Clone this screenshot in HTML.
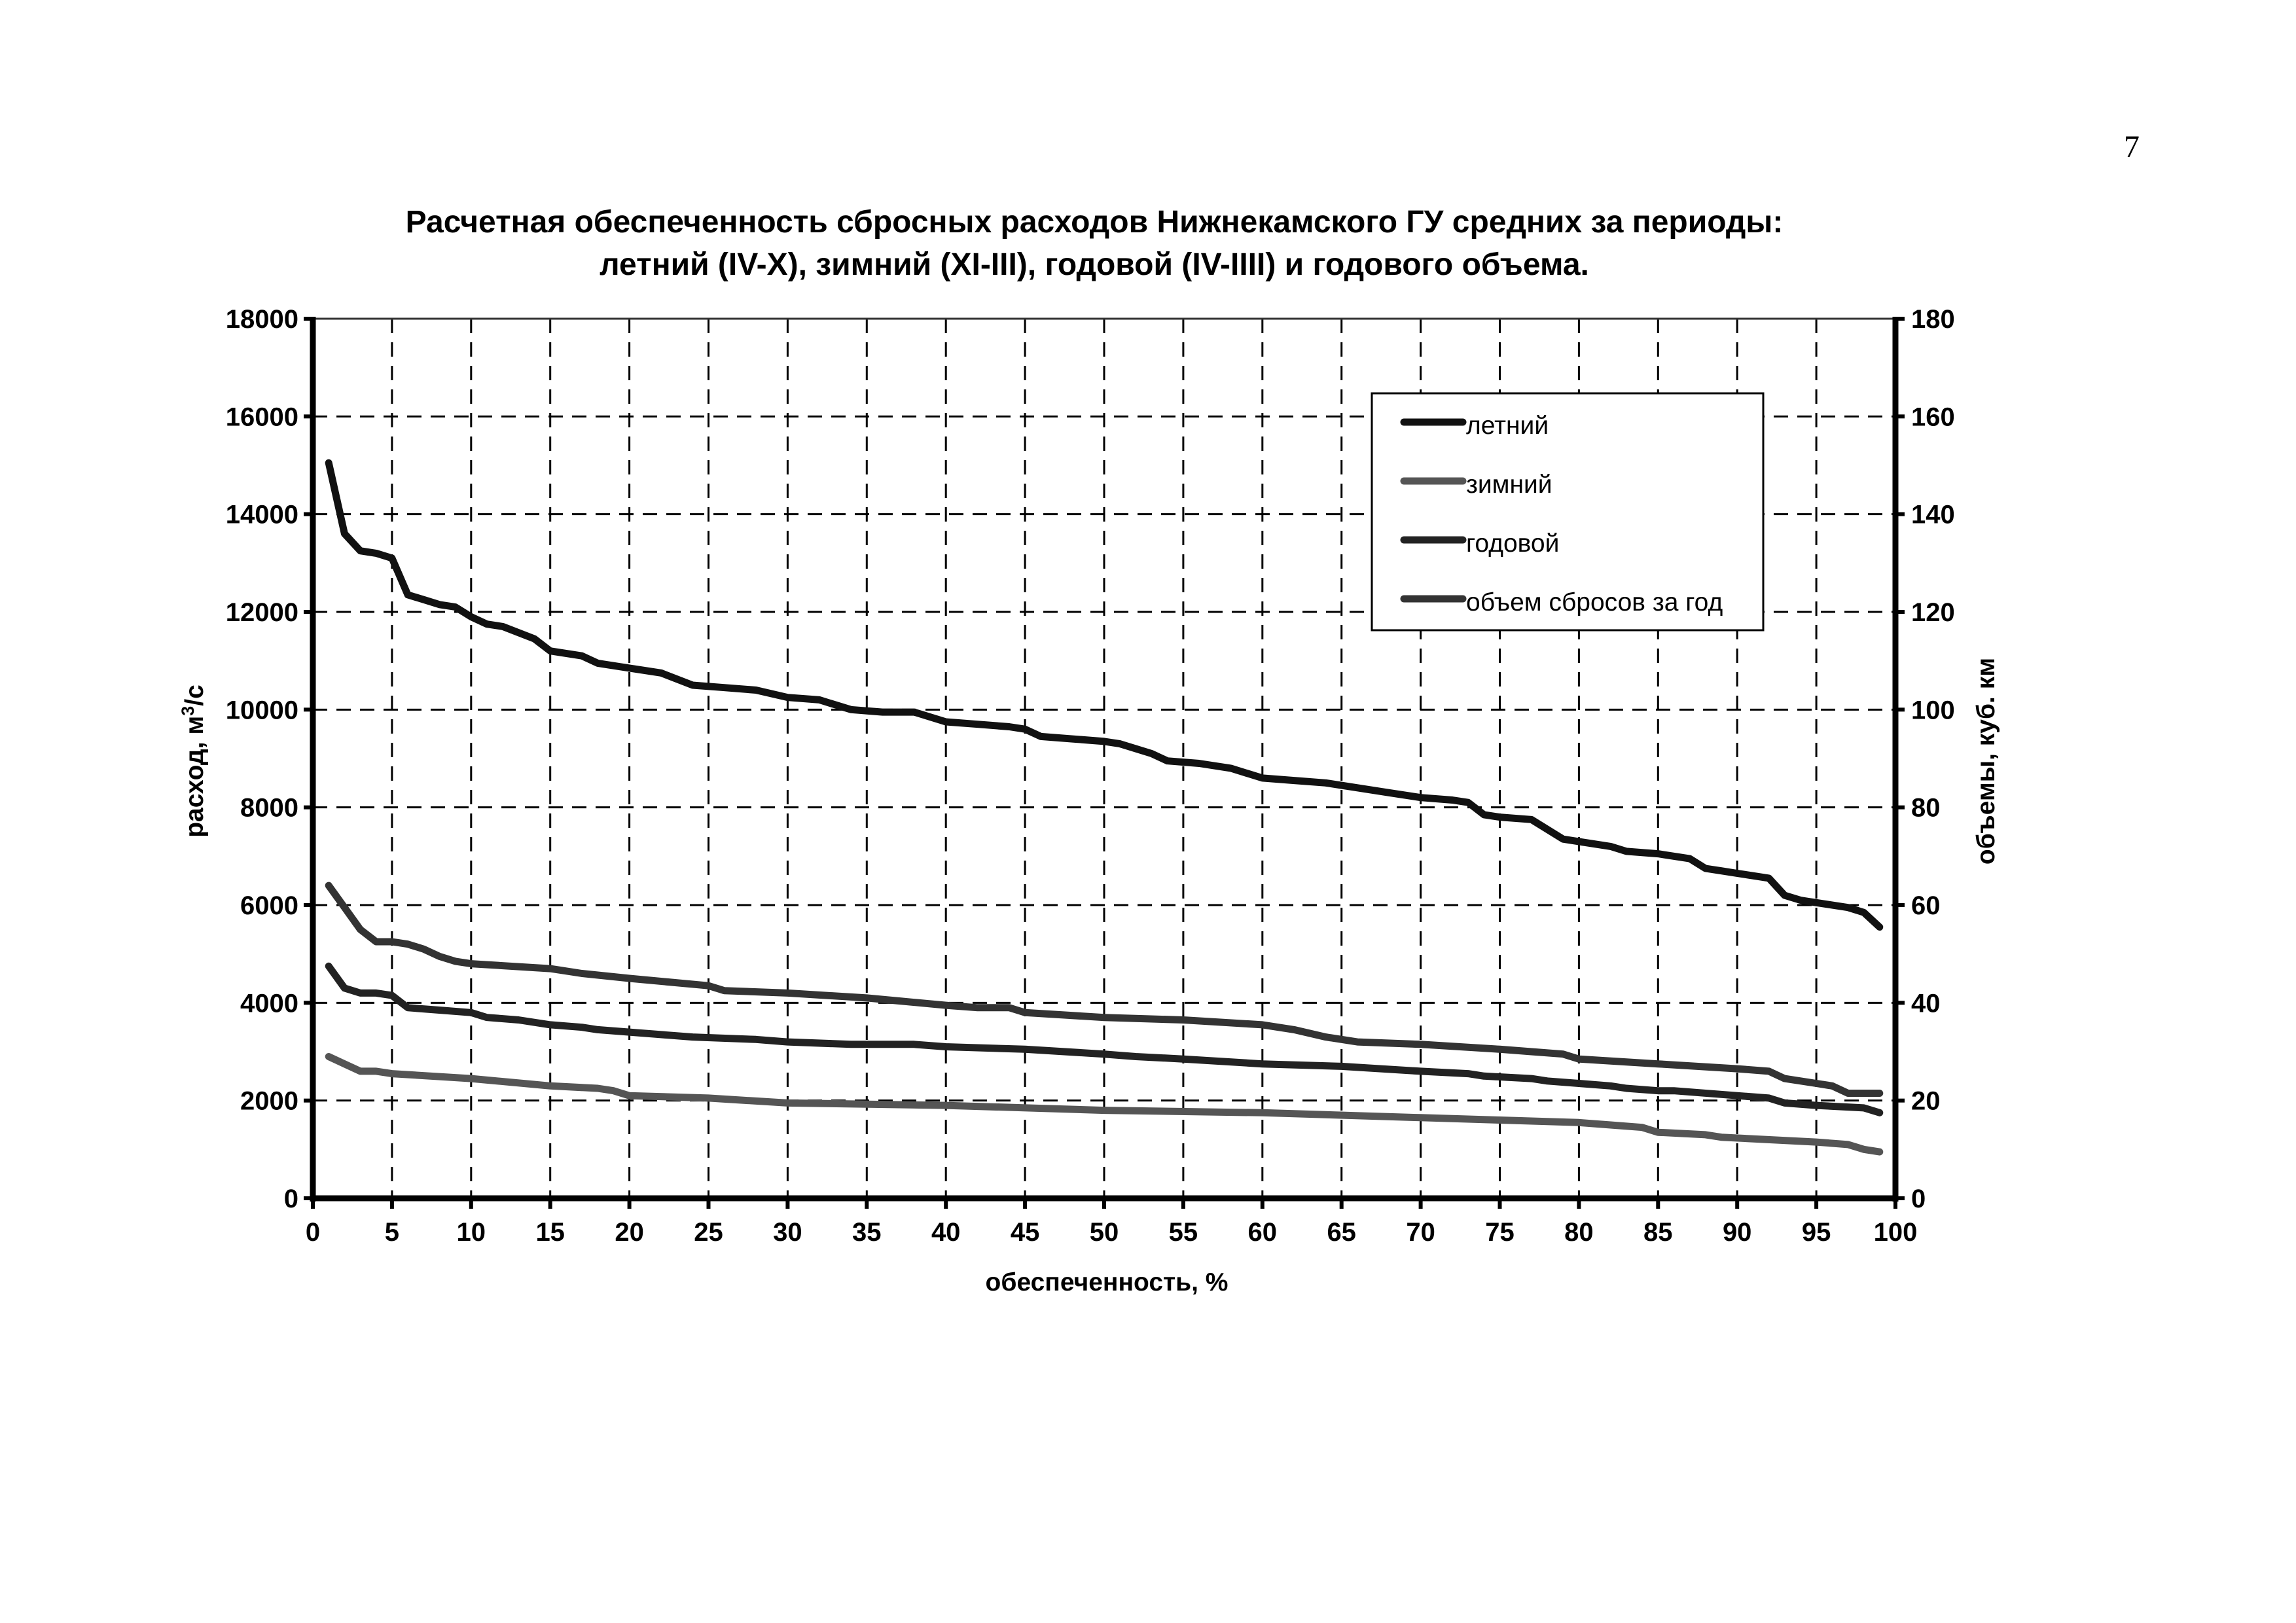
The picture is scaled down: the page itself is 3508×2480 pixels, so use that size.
<!DOCTYPE html>
<html><head><meta charset="utf-8"><style>
html,body{margin:0;padding:0;background:#fff;}
svg{display:block;}
text{font-family:"Liberation Sans",Arial,sans-serif;}
</style></head><body>
<svg id="s" width="3508" height="2480" xmlns="http://www.w3.org/2000/svg">
<text x="3257" y="240" font-family="Liberation Serif" style="font-family:'Liberation Serif',serif" font-size="48" text-anchor="middle">7</text>
<text x="1672" y="355" font-size="48" font-weight="bold" text-anchor="middle">Расчетная обеспеченность сбросных расходов Нижнекамского ГУ средних за периоды:</text>
<text x="1672" y="420" font-size="48" font-weight="bold" text-anchor="middle">летний (IV-X), зимний (XI-III), годовой (IV-IIII) и годового объема.</text>
<g id="g"></g>
<text x="1691" y="1972" font-size="39" font-weight="bold" text-anchor="middle">обеспеченность, %</text>
<text transform="translate(310,1163) rotate(-90)" font-size="39" font-weight="bold" text-anchor="middle">расход, м<tspan font-size="27" dy="-14">3</tspan><tspan dy="14">/с</tspan></text>
<text transform="translate(3047,1163) rotate(-90)" font-size="39" font-weight="bold" text-anchor="middle">объемы, куб. км</text>
<rect x="2096" y="601" width="598" height="362" fill="#fff" stroke="#000" stroke-width="3"/>
<g stroke-linecap="round" stroke-width="11">
<line x1="2145" y1="645" x2="2235" y2="645" stroke="#111"/>
<line x1="2145" y1="735" x2="2235" y2="735" stroke="#555"/>
<line x1="2145" y1="825" x2="2235" y2="825" stroke="#222"/>
<line x1="2145" y1="915" x2="2235" y2="915" stroke="#333"/>
</g>
<g font-size="39">
<text x="2240" y="663">летний</text>
<text x="2240" y="753">зимний</text>
<text x="2240" y="843">годовой</text>
<text x="2240" y="933">объем сбросов за год</text>
</g>
</svg>
<script>
var X0=478,X1=2896,Y0=1831,Y1=487;
function px(x){return X0+(X1-X0)*x/100}
function py(v){return Y0+(Y1-Y0)*v/18000}
var g=document.getElementById('g'),h='';
for(var i=1;i<=19;i++){var x=px(i*5);h+='<line x1="'+x+'" y1="'+Y1+'" x2="'+x+'" y2="'+Y0+'" stroke="#000" stroke-width="3" stroke-dasharray="22 14"/>';}
for(var j=1;j<=9;j++){var y=py(j*2000);h+='<line x1="'+X0+'" y1="'+y+'" x2="'+X1+'" y2="'+y+'" stroke="#000" stroke-width="3" stroke-dasharray="22 14"/>';}
h+='<line x1="'+X0+'" y1="'+Y1+'" x2="'+X1+'" y2="'+Y1+'" stroke="#333" stroke-width="3"/>';
h+='<line x1="'+X0+'" y1="'+(Y1-3)+'" x2="'+X0+'" y2="'+(Y0+5)+'" stroke="#000" stroke-width="9"/>';
h+='<line x1="'+X1+'" y1="'+(Y1-3)+'" x2="'+X1+'" y2="'+(Y0+5)+'" stroke="#000" stroke-width="9"/>';
h+='<line x1="'+(X0-3)+'" y1="'+Y0+'" x2="'+(X1+3)+'" y2="'+Y0+'" stroke="#000" stroke-width="9"/>';
for(var i=0;i<=20;i++){var x=px(i*5);h+='<line x1="'+x+'" y1="'+Y0+'" x2="'+x+'" y2="'+(Y0+16)+'" stroke="#000" stroke-width="6"/>';
h+='<text x="'+x+'" y="'+(Y0+65)+'" font-size="40" font-weight="bold" text-anchor="middle">'+(i*5)+'</text>';}
for(var j=0;j<=9;j++){var y=py(j*2000);
h+='<line x1="'+(X0-14)+'" y1="'+y+'" x2="'+X0+'" y2="'+y+'" stroke="#000" stroke-width="6"/>';
h+='<line x1="'+X1+'" y1="'+y+'" x2="'+(X1+14)+'" y2="'+y+'" stroke="#000" stroke-width="6"/>';
h+='<text x="'+(X0-22)+'" y="'+(y+14)+'" font-size="40" font-weight="bold" text-anchor="end">'+(j*2000)+'</text>';
h+='<text x="'+(X1+24)+'" y="'+(y+14)+'" font-size="40" font-weight="bold">'+(j*20)+'</text>';}
var S=[
["#111",[[1,15050],[2,13600],[3,13250],[4,13200],[5,13100],[6,12350],[7,12250],[8,12150],[9,12100],[10,11900],[11,11750],[12,11700],[14,11450],[15,11200],[17,11100],[18,10950],[20,10850],[22,10750],[24,10500],[26,10450],[28,10400],[30,10250],[32,10200],[34,10000],[36,9950],[38,9950],[40,9750],[42,9700],[44,9650],[45,9600],[46,9450],[48,9400],[50,9350],[51,9300],[53,9100],[54,8950],[56,8900],[58,8800],[60,8600],[62,8550],[64,8500],[66,8400],[68,8300],[70,8200],[72,8150],[73,8100],[74,7850],[75,7800],[77,7750],[79,7350],[81,7250],[82,7200],[83,7100],[85,7050],[87,6950],[88,6750],[89,6700],[90,6650],[91,6600],[92,6550],[93,6200],[94,6100],[95,6050],[97,5950],[98,5850],[99,5550]]],
["#333",[[1,6400],[2,5950],[3,5500],[4,5250],[5,5250],[6,5200],[7,5100],[8,4950],[9,4850],[10,4800],[15,4700],[17,4600],[20,4500],[25,4350],[26,4250],[30,4200],[35,4100],[40,3950],[42,3900],[44,3900],[45,3800],[50,3700],[55,3650],[60,3550],[62,3450],[64,3300],[66,3200],[70,3150],[75,3050],[77,3000],[79,2950],[80,2850],[85,2750],[90,2650],[92,2600],[93,2450],[95,2350],[96,2300],[97,2150],[99,2150]]],
["#222",[[1,4750],[2,4300],[3,4200],[4,4200],[5,4150],[6,3900],[8,3850],[10,3800],[11,3700],[13,3650],[15,3550],[17,3500],[18,3450],[20,3400],[22,3350],[24,3300],[28,3250],[30,3200],[34,3150],[38,3150],[40,3100],[45,3050],[50,2950],[52,2900],[55,2850],[60,2750],[65,2700],[70,2600],[73,2550],[74,2500],[77,2450],[78,2400],[80,2350],[82,2300],[83,2250],[85,2200],[86,2200],[90,2100],[92,2050],[93,1950],[95,1900],[98,1850],[99,1750]]],
["#555",[[1,2900],[2,2750],[3,2600],[4,2600],[5,2550],[10,2450],[15,2300],[18,2250],[19,2200],[20,2100],[25,2050],[30,1950],[40,1900],[50,1800],[60,1750],[70,1650],[75,1600],[80,1550],[82,1500],[84,1450],[85,1350],[88,1300],[89,1250],[95,1150],[97,1100],[98,1000],[99,950]]]];
S.forEach(function(s){var p=s[1].map(function(q){return px(q[0]).toFixed(1)+','+py(q[1]).toFixed(1)}).join(' ');
h+='<polyline points="'+p+'" fill="none" stroke="'+s[0]+'" stroke-width="11" stroke-linejoin="round" stroke-linecap="round"/>';});
g.innerHTML=h;
</script>
</body></html>
